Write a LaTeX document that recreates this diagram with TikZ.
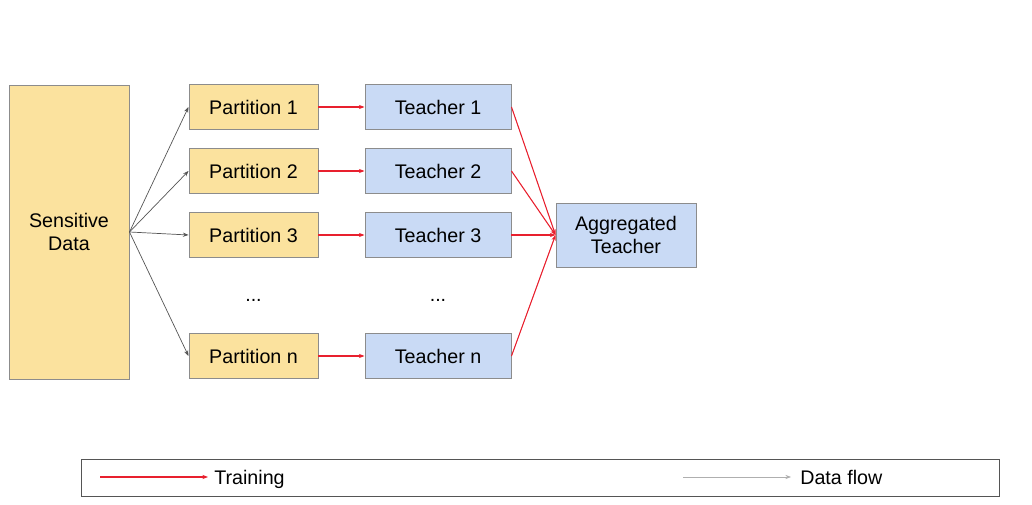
\documentclass[tikz,border=0pt]{standalone}
\usepackage{fontspec}
\setmainfont{Liberation Sans}
\usepackage{tikz}
\usetikzlibrary{arrows.meta, positioning}
\usepackage{xcolor}
\definecolor{partyellow}{HTML}{FBE29E}
\definecolor{teachblue}{HTML}{C9DAF5}
\definecolor{boxgray}{HTML}{8C8C8C}
\definecolor{trainred}{HTML}{E8202E}
\definecolor{flowgray}{HTML}{555555}

\tikzset{
  databox/.style={draw=boxgray, line width=0.7pt, fill=partyellow,
                  minimum width=129*0.025cm, minimum height=45*0.025cm,
                  font=\fontsize{14}{17}\selectfont, inner sep=0pt},
  teachbox/.style={draw=boxgray, line width=0.7pt, fill=teachblue,
                   minimum width=146*0.025cm, minimum height=45*0.025cm,
                   font=\fontsize{14}{17}\selectfont, inner sep=0pt},
  trainarrow/.style={-{Stealth[length=4pt, width=3pt]}, draw=trainred,
                     fill=trainred, line width=0.75pt},
  flowarrow/.style={-{Stealth[length=4pt, width=3pt]}, flowgray, line width=0.5pt},
}

\begin{document}
\begin{tikzpicture}[x=0.025cm, y=-0.025cm]
      \useasboundingbox (0,0) rectangle (1032,505);

      % source
      \node[databox, minimum height=294*0.025cm, minimum width=120*0.025cm,
            align=center] (sens) at (69, 232) {Sensitive\\Data};

      % partitions
      \node[databox] (part1) at (253.5, 107) {Partition 1};
      \node[databox] (part2) at (253.5, 171) {Partition 2};
      \node[databox] (part3) at (253.5, 235) {Partition 3};
      \node[databox] (partn) at (253.5, 356) {Partition n};
      \node[font=\fontsize{14}{17}\selectfont] (pdots) at (253.5, 300) {...};

      % teachers
      \node[teachbox] (teach1) at (438, 107) {Teacher 1};
      \node[teachbox] (teach2) at (438, 171) {Teacher 2};
      \node[teachbox] (teach3) at (438, 235) {Teacher 3};
      \node[teachbox] (teachn) at (438, 356) {Teacher n};
      \node[font=\fontsize{14}{17}\selectfont] (tdots) at (438, 300) {...};

      \node[teachbox, minimum width=140*0.025cm, minimum height=64*0.025cm,
            align=center, font=\fontsize{14}{16}\selectfont] (agg) at (626, 235)
        {Aggregated\\Teacher};

      % data flow
      \foreach \p in {part1, part2, part3, partn}
        \draw[flowarrow] (sens.east) -- (\p.west);

      % training
      \draw[trainarrow] (part1) -- (teach1);
      \draw[trainarrow] (part2) -- (teach2);
      \draw[trainarrow] (part3) -- (teach3);
      \draw[trainarrow] (partn) -- (teachn);
      \foreach \t in {teach1, teach2, teach3, teachn}
        \draw[trainarrow] (\t.east) -- (agg.west);

      % legend
      \node[draw=flowgray, line width=0.7pt, minimum width=918*0.025cm,
            minimum height=37*0.025cm] (legend) at (540, 477.5) {};
      \coordinate (trainfrom) at (100, 477);
      \coordinate (trainto) at (208, 477);
      \node[font=\fontsize{14}{17}\selectfont, anchor=base west, inner sep=0pt]
        (trainlbl) at (214, 484) {Training};
      \draw[trainarrow] (trainfrom) -- (trainto);
      \coordinate (flowfrom) at (683, 477);
      \coordinate (flowto) at (791, 477);
      \node[font=\fontsize{14}{17}\selectfont, anchor=base west, inner sep=0pt]
        (flowlbl) at (800, 484) {Data flow};
      \draw[flowarrow, draw=boxgray!70] (flowfrom) -- (flowto);
    \end{tikzpicture}
\end{document}
